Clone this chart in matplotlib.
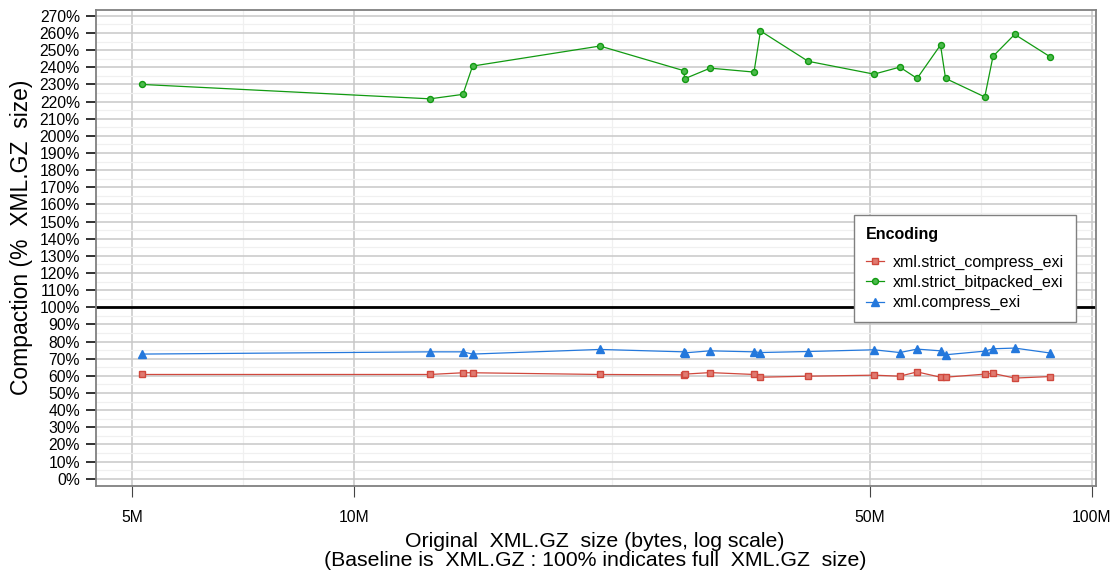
import matplotlib
matplotlib.use("Agg")
import matplotlib.pyplot as plt
import matplotlib.ticker as mticker
import numpy as np

plt.rcParams['font.family'] = ['Liberation Sans', 'DejaVu Sans']

# original file sizes in MB (log scale)
size_mb = [5.15, 12.67, 14.04, 14.47, 21.54, 28.0, 28.06, 30.39, 34.85, 35.56,
           41.27, 50.70, 54.95, 58.00, 62.40, 63.39, 71.65, 73.52, 78.67, 87.97]

# compaction in % of XML.GZ size
strict_compress = [60.8, 60.8, 61.8, 61.8, 60.8, 60.6, 61.0, 61.9, 60.8, 59.2,
                   59.8, 60.4, 59.8, 62.3, 59.2, 59.2, 61.0, 61.4, 58.7, 59.6]
strict_bitpacked = [230.0, 221.6, 224.2, 240.7, 252.4, 238.0, 233.3, 239.5, 237.2, 261.2,
                    243.5, 236.0, 240.1, 233.5, 253.0, 233.5, 222.7, 246.4, 259.2, 246.0]
compress = [72.7, 74.0, 74.0, 72.7, 75.4, 74.0, 73.4, 74.6, 74.0, 73.6,
            74.2, 75.2, 73.6, 75.6, 74.6, 72.3, 74.4, 75.8, 76.2, 73.3]

series = [
    ("xml.strict_compress_exi", strict_compress, "#d0483d", "#e07a70", "s", 4.3),
    ("xml.strict_bitpacked_exi", strict_bitpacked, "#119a11", "#4cba4c", "o", 4.3),
    ("xml.compress_exi", compress, "#2478dc", "#2478dc", "^", 5.8),
]

x_ticks = [5, 10, 50, 100]
x_labels = ["5M", "10M", "50M", "100M"]

fig = plt.figure(figsize=(11.14, 5.73), dpi=100)
ax = fig.add_axes([0.0866, 0.152, 0.8972, 0.8305])

for name, vals, col, face, mk, ms in series:
    ax.plot(size_mb, vals, color=col, lw=0.9, marker=mk, ms=ms,
            mfc=face, mec=col, mew=1.0, label=name, zorder=3)

ax.axhline(100, color="black", lw=2, zorder=2)

ax.set_xscale("log")
ax.set_xlim(4.47, 101.4)
ax.set_ylim(-4.2, 273.4)

ax.xaxis.set_major_locator(mticker.FixedLocator(x_ticks))
ax.xaxis.set_major_formatter(mticker.FixedFormatter(x_labels))
ax.xaxis.set_minor_locator(mticker.FixedLocator([np.sqrt(5 * 10), np.sqrt(10 * 50), np.sqrt(50 * 100)]))
ax.xaxis.set_minor_formatter(mticker.NullFormatter())

ax.yaxis.set_major_locator(mticker.MultipleLocator(10))
ax.yaxis.set_minor_locator(mticker.MultipleLocator(5))
ax.yaxis.set_major_formatter(mticker.FuncFormatter(lambda v, p: f"{v:.0f}%"))

ax.grid(True, which="major", color="#c8c8c8", lw=1.1, zorder=0)
ax.grid(True, which="minor", color="#f0f0f0", lw=0.9, zorder=0)
ax.set_axisbelow(True)

for s in ax.spines.values():
    s.set_color("#808080")
    s.set_linewidth(1.3)

ax.tick_params(axis="y", which="major", direction="out", length=7, width=1.3,
               color="#222222", labelsize=11.3, pad=5)
ax.tick_params(axis="x", which="major", direction="out", length=8, width=0.8,
               color="#444444", labelsize=11.3, pad=9)
ax.tick_params(which="minor", length=0)

ax.set_ylabel("Compaction (%  XML.GZ  size)", fontsize=16.5)
ax.yaxis.set_label_coords(-0.0635, 0.523)
ax.set_xlabel("Original  XML.GZ  size (bytes, log scale)\n(Baseline is  XML.GZ : 100% indicates full  XML.GZ  size)",
              fontsize=15.3, linespacing=1.05)
ax.xaxis.set_label_coords(0.4988, -0.096)

leg = ax.legend(title="Encoding", loc="upper left", bbox_to_anchor=(0.750, 0.586),
                fontsize=11.5, title_fontsize=11.5, frameon=True, fancybox=False,
                edgecolor="#808080", framealpha=1, handlelength=1.1, borderpad=0.75,
                labelspacing=0.33, handletextpad=0.6)
leg.get_title().set_fontweight("bold")
leg._legend_box.align = "left"
leg._legend_box.sep = 9
leg.set_zorder(5)

fig.savefig("out.png", dpi=100)
